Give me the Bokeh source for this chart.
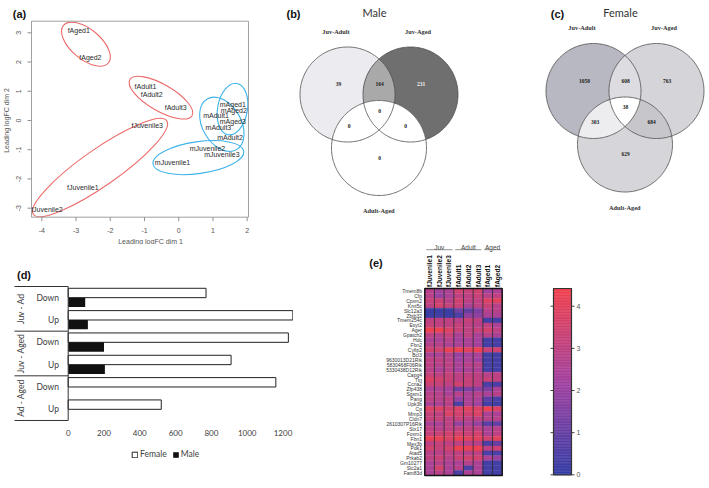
import numpy as np
from bokeh.plotting import figure
from bokeh.layouts import column, row
from bokeh.models import Range1d, Legend, ColumnDataSource
from bokeh.core.properties import value
from bokeh.transform import linear_cmap
from bokeh.embed import file_html
from bokeh.resources import INLINE

SANS = "Liberation Sans"
SERIF = "Liberation Serif"
CAL = "Lato"

# ---------------- (a) MDS plot data ----------------
mds_names = ["fAged1", "fAged2", "fAdult1", "fAdult2", "fAdult3", "fJuvenile3", "fJuvenile1", "fJuvenile2",
             "mAged1", "mAged2", "mAdult1", "mAged3", "mAdult3", "mAdult2", "mJuvenile2", "mJuvenile3", "mJuvenile1"]
mds_dim1 = [-2.92, -2.58, -0.97, -0.79, -0.09, -0.92, -2.80, -3.85,
            1.58, 1.61, 1.09, 1.58, 1.16, 1.50, 0.84, 1.26, -0.18]
mds_dim2 = [3.08, 2.17, 1.15, 0.88, 0.44, -0.18, -2.28, -3.05,
            0.56, 0.35, 0.17, -0.05, -0.24, -0.59, -0.96, -1.17, -1.44]
mds_xticks = [-4, -3, -2, -1, 0, 1, 2]
mds_yticks = [-3, -2, -1, 0, 1, 2, 3]

ell_cx = [-2.71, -0.52, -2.30, 0.575, 1.26, 1.57]
ell_cy = [2.61, 0.78, -1.61, -1.27, -0.13, 0.39]
ell_w = [1.71, 2.10, 4.76, 2.68, 1.71, 1.52]
ell_h = [1.02, 0.91, 1.25, 1.09, 1.32, 1.02]
ell_deg = [-40, -30, 35, 8, -60, 80]
ell_sex = ["f", "f", "f", "m", "m", "m"]

# ---------------- (b)/(c) Venn data ----------------
venn_sets = ["Juv-Adult", "Juv-Aged", "Adult-Aged"]
venn_regions = ["100", "010", "001", "110", "101", "011", "111"]
male_counts = [39, 231, 0, 164, 0, 0, 0]
female_counts = [1058, 763, 629, 608, 303, 684, 38]

# ---------------- (d) DE gene counts ----------------
de_groups = ["Juv - Ad", "Juv - Aged", "Ad - Aged"]
de_dirs = ["Down", "Up"]
de_female = [770, 1255, 1230, 910, 1160, 520]
de_male = [95, 110, 200, 205, 0, 0]
de_xticks = [0, 200, 400, 600, 800, 1000, 1200]

# ---------------- (e) heatmap ----------------
he_cols = ["fJuvenile1", "fJuvenile2", "fJuvenile3", "fAdult1", "fAdult2", "fAdult3", "fAged1", "fAged2"]
he_col_groups = ["Juv", "Adult", "Aged"]
he_col_group_sizes = [3, 3, 2]
he_genes = ["Tmem8b", "Cfp", "Cpxm2", "Kmt5c", "Slc12a3", "Zbtb32", "Tmem254c", "Esyt2", "Ager",
            "Gpatch2", "Hdc", "Fbn2", "Cyfip2", "Bcl3", "9630013D21Rik", "5830468F06Rik",
            "5330438D12Rik", "Capg4", "Ttn", "Ccna2", "Zfp438", "Sgsm1", "Pang", "Upk3b", "Cp",
            "Mmp3", "Cldn7", "2610307P16Rik", "Stx17", "Foxm1", "Fbn1", "Mex3b", "Pdk1", "Atad5",
            "Prkab2", "Gm10277", "Slc2a1", "Fam83d"]
he_vals = [
    [2.8, 2.3, 2.5, 3.5, 3.2, 3.5, 2.2, 2.5],
    [2.8, 2.0, 2.5, 3.0, 3.0, 3.3, 2.8, 3.0],
    [3.2, 3.3, 2.8, 3.5, 3.0, 3.0, 3.8, 4.0],
    [3.0, 3.5, 3.2, 3.3, 2.5, 3.0, 3.3, 2.8],
    [0.2, 0.2, 0.2, 1.2, 1.0, 1.5, 2.8, 2.8],
    [0.2, 0.3, 0.2, 0.5, 1.8, 1.8, 2.5, 2.5],
    [3.0, 3.0, 3.0, 2.8, 3.2, 3.0, 0.3, 0.3],
    [3.2, 3.0, 3.0, 3.2, 3.0, 2.8, 3.0, 2.5],
    [4.3, 4.3, 3.8, 3.2, 3.0, 3.2, 3.5, 3.0],
    [3.0, 2.8, 3.2, 2.5, 3.0, 2.5, 2.8, 2.5],
    [2.5, 2.5, 2.8, 2.3, 2.5, 2.3, 0.3, 0.3],
    [2.8, 2.8, 2.5, 2.5, 2.5, 2.3, 0.3, 0.4],
    [3.5, 3.5, 4.2, 4.3, 4.0, 4.3, 3.3, 3.5],
    [2.5, 2.5, 2.8, 2.0, 2.3, 2.5, 0.3, 0.3],
    [3.0, 3.0, 2.8, 2.2, 2.5, 2.2, 0.3, 0.3],
    [3.0, 2.8, 3.0, 2.5, 2.8, 2.8, 0.3, 0.3],
    [2.8, 2.5, 2.8, 2.3, 2.5, 2.5, 0.3, 0.3],
    [3.2, 3.0, 3.2, 3.0, 3.0, 3.0, 2.8, 3.0],
    [3.8, 3.5, 3.3, 3.0, 3.2, 3.0, 3.2, 3.0],
    [3.3, 3.2, 3.0, 3.5, 3.2, 3.0, 0.5, 0.5],
    [2.5, 2.5, 2.3, 1.2, 1.5, 1.8, 1.5, 2.5],
    [2.8, 2.8, 2.5, 2.8, 2.5, 2.8, 2.5, 2.8],
    [3.0, 2.8, 3.0, 2.0, 2.5, 2.5, 0.8, 0.5],
    [2.5, 2.5, 2.8, 0.5, 2.5, 2.2, 0.3, 0.3],
    [3.8, 3.8, 3.5, 3.8, 4.0, 3.8, 4.3, 3.8],
    [3.2, 3.0, 3.8, 3.5, 3.5, 3.8, 2.5, 2.5],
    [3.2, 3.2, 3.0, 3.2, 3.0, 3.0, 2.8, 2.8],
    [2.5, 2.5, 3.0, 2.0, 2.5, 2.0, 0.8, 1.0],
    [3.0, 2.8, 3.0, 3.0, 3.0, 3.0, 2.5, 2.8],
    [3.2, 3.3, 3.5, 3.5, 3.3, 3.5, 2.5, 3.0],
    [4.2, 4.2, 3.8, 4.2, 4.0, 4.0, 3.5, 4.0],
    [3.0, 3.2, 3.0, 3.0, 2.8, 2.8, 0.5, 1.0],
    [3.5, 3.2, 3.5, 4.3, 4.2, 4.3, 3.0, 3.3],
    [2.8, 2.8, 3.0, 3.0, 2.8, 3.0, 0.5, 0.5],
    [3.0, 3.3, 2.8, 3.3, 3.5, 3.5, 2.5, 2.0],
    [2.5, 2.8, 2.5, 2.5, 2.8, 2.5, 0.3, 0.3],
    [2.5, 3.5, 2.5, 2.8, 0.5, 2.5, 0.3, 0.3],
    [2.5, 2.8, 2.5, 0.5, 2.5, 2.5, 0.3, 0.3],
]
he_low, he_high = 0.0, 4.42
cb_ticks = [0, 1, 2, 3, 4]


def make_palette(n=256):
    stops = [(0.0, (52, 62, 166)), (0.5, (162, 66, 160)), (1.0, (240, 66, 78))]
    out = []
    for i in range(n):
        t = i / (n - 1)
        for (t0, c0), (t1, c1) in zip(stops[:-1], stops[1:]):
            if t <= t1 + 1e-9:
                f = (t - t0) / (t1 - t0)
                c = tuple(int(round(a + (b - a) * f)) for a, b in zip(c0, c1))
                break
        out.append("#%02x%02x%02x" % c)
    return out


PAL = make_palette()


def base_fig(width, height, x_range, y_range):
    # every panel uses its whole canvas as frame (no borders), so panels never get re-aligned
    p = figure(width=width, height=height, x_range=x_range, y_range=y_range, output_backend="svg",
               toolbar_location=None, x_axis_location=None, y_axis_location=None, min_border=0, title=None)
    p.grid.visible = False
    p.outline_line_color = None
    p.background_fill_color = "white"
    p.border_fill_color = "white"
    return p


def txt(p, x, y, text, size, font=SANS, style="normal", color="#222222", align="center",
        baseline="middle", angle=0.0, **kw):
    p.text(x=x, y=y, text=text, text_font=value(font), text_font_size=size, text_font_style=style,
           text_color=color, text_align=align, text_baseline=baseline, angle=angle, **kw)


# ======================= (a) MDS =======================
AX0, AX1, AY0, AY1 = -4.301, 2.038, -3.308, 3.397        # plot box
PXA, PYA = 34.23, 29.23                                   # px per unit
xa0 = -4 - 41.3 / PXA
ya1 = 3 + 32.3 / PYA
pa = base_fig(285, 244, Range1d(xa0, xa0 + 285 / PXA), Range1d(ya1 - 244 / PYA, ya1))
ell_color = ["#ec6b6b" if s == "f" else "#3db3ea" for s in ell_sex]
pa.ellipse(x=ell_cx, y=ell_cy, width=ell_w, height=ell_h, angle=ell_deg, angle_units="deg",
           fill_color=None, line_color=ell_color, line_width=1.1)
txt(pa, mds_dim1, mds_dim2, mds_names, "7px", color="#2a2a2a")
# mask outside the plot box (the reference clips at the box)
big = 50
pa.quad(left=[-big, AX1, -big, -big], right=[AX0, big, big, big],
        bottom=[-big, -big, AY1, -big], top=[big, big, big, AY0], fill_color="white", line_color=None)
pa.quad(left=[AX0], right=[AX1], bottom=[AY0], top=[AY1], fill_color=None, line_color="#a0a0a0", line_width=1)
pa.segment(x0=mds_xticks, x1=mds_xticks, y0=AY0, y1=AY0 - 4 / PYA, line_color="#909090", line_width=1)
pa.segment(x0=AX0, x1=AX0 - 4 / PXA, y0=mds_yticks, y1=mds_yticks, line_color="#909090", line_width=1)
txt(pa, mds_xticks, [ya1 - 230 / PYA] * len(mds_xticks), [str(t) for t in mds_xticks], "7px", color="#555555")
txt(pa, [xa0 + 18 / PXA] * len(mds_yticks), mds_yticks, [str(t) for t in mds_yticks], "7px", color="#555555",
    angle=np.pi / 2)
txt(pa, [xa0 + 150 / PXA], [ya1 - 240.5 / PYA], ["Leading logFC dim 1"], "7px", color="#555555")
txt(pa, [xa0 + 5.5 / PXA], [ya1 - 120 / PYA], ["Leading logFC dim 2"], "7px", color="#555555", angle=np.pi / 2)
txt(pa, [xa0 + 19 / PXA], [ya1 - 13 / PYA], ["(a)"], "11px", style="bold", color="#111111")

# ======================= (b) + (c) Venn =======================
pv = base_fig(424, 244, Range1d(285, 709), Range1d(244, 0))

VR = 47.5
V_CENTERS = [(-31.5, -17.5), (31.5, -17.5), (0.0, 36.0)]
V_REG_OFF = {"100": (-40.5, -28), "010": (42, -28), "001": (0.5, 45.5), "110": (0.5, -28),
             "101": (-30, 13.7), "011": (26.5, 13.7), "111": (0.5, -1.1)}
V_SET_OFF = [(-43, -81), (39, -81), (-0.3, 98.5)]


def circle_poly(cx, cy, r, n=240):
    t = np.linspace(0, 2 * np.pi, n, endpoint=False)
    return np.column_stack([cx + r * np.cos(t), cy + r * np.sin(t)])


def clip_convex(subject, clipper):
    out = [tuple(p) for p in subject]
    m = len(clipper)
    for i in range(m):
        ax_, ay_ = clipper[i - 1]
        bx_, by_ = clipper[i]
        inp = out
        out = []
        if not inp:
            break

        def inside(p):
            return (bx_ - ax_) * (p[1] - ay_) - (by_ - ay_) * (p[0] - ax_) >= 0

        def inter(p, q):
            x1, y1 = p
            x2, y2 = q
            dx, dy = x2 - x1, y2 - y1
            ex, ey = bx_ - ax_, by_ - ay_
            den = dx * ey - dy * ex
            t = ((ax_ - x1) * ey - (ay_ - y1) * ex) / den
            return (x1 + t * dx, y1 + t * dy)

        s = inp[-1]
        for e in inp:
            if inside(e):
                if not inside(s):
                    out.append(inter(s, e))
                out.append(e)
            elif inside(s):
                out.append(inter(s, e))
            s = e
    return np.array(out)


def draw_venn(p, cx, cy, counts, colors, text_colors):
    circ = [circle_poly(cx + dx, cy + dy, VR) for dx, dy in V_CENTERS]
    order = [("100", [0]), ("010", [1]), ("001", [2]), ("110", [0, 1]), ("101", [0, 2]),
             ("011", [1, 2]), ("111", [0, 1, 2])]
    for key, idx in order:
        poly = circ[idx[0]]
        for j in idx[1:]:
            poly = clip_convex(poly, circ[j])
        if len(poly) > 2:
            p.patch(x=poly[:, 0], y=poly[:, 1], fill_color=colors[key], line_color=None)
    for c in circ:
        p.patch(x=c[:, 0], y=c[:, 1], fill_color=None, line_color="#4d4d4d", line_width=0.8)
    for key, n in zip(venn_regions, counts):
        ox, oy = V_REG_OFF[key]
        txt(p, [cx + ox], [cy + oy], [str(n)], "5.5px", font=SERIF, style="bold",
            color=text_colors.get(key, "#222222"))
    for name, (ox, oy) in zip(venn_sets, V_SET_OFF):
        txt(p, [cx + ox], [cy + oy], [name], "6.3px", font=SERIF, style="bold", color="#333333")


male_colors = {"100": "#ececf0", "010": "#6f6f6f", "001": "#ffffff", "110": "#a9a9a9",
               "101": "#ffffff", "011": "#ffffff", "111": "#ffffff"}
female_colors = {"100": "#b7b8c1", "010": "#d4d4d9", "001": "#d6d6da", "110": "#dcdce1",
                 "101": "#ededf0", "011": "#c7c7cb", "111": "#ffffff"}
draw_venn(pv, 378.5, 111.5, male_counts, male_colors, {"010": "#f2f2f2"})
draw_venn(pv, 624.5, 108.0, female_counts, female_colors, {})

txt(pv, [293, 557], [13, 13], ["(b)", "(c)"], "11px", style="bold", color="#111111")
txt(pv, [374, 620], [12, 12], ["Male", "Female"], "11px", font=CAL, color="#333333")

# ======================= (d) bars =======================
PXD = 0.179                  # px per gene
PYD = 22.33                  # px per row
xd0 = -67.7 / PXD
yd1 = 6 + 42 / PYD
n_rows = len(de_female)
pd_ = base_fig(293, 244, Range1d(xd0, xd0 + 293 / PXD), Range1d(yd1 - 244 / PYD, yd1))
row_c = [n_rows - i - 0.5 for i in range(n_rows)]
bar_h = 0.42
rf = pd_.hbar(y=[c + bar_h / 2 for c in row_c], left=0, right=de_female, height=bar_h,
              fill_color="white", line_color="#222222", line_width=1)
rm = pd_.hbar(y=[c - bar_h / 2 for c in row_c], left=0, right=de_male, height=bar_h,
              fill_color="#111111", line_color=None)
pd_.segment(x0=[0], x1=[0], y0=[0], y1=[n_rows], line_color="#333333", line_width=1)
n_per = len(de_dirs)
bounds = [n_rows - k * n_per for k in range(len(de_groups) + 1)]
pd_.segment(x0=xd0 + 14 / PXD, x1=0, y0=bounds, y1=bounds, line_color="#333333", line_width=1)
grp_c = [n_rows - k * n_per - n_per / 2 for k in range(len(de_groups))]
txt(pd_, [xd0 + 20.7 / PXD] * len(de_groups), grp_c, de_groups, "8.5px", font=CAL, color="#404040",
    angle=np.pi / 2)
txt(pd_, [xd0 + 58.5 / PXD] * n_rows, row_c, de_dirs * len(de_groups), "8.5px", font=CAL, color="#404040",
    align="right")
txt(pd_, de_xticks, [-12.3 / PYD] * len(de_xticks), [str(t) for t in de_xticks], "8px", font=CAL,
    color="#404040")
txt(pd_, [xd0 + 23.5 / PXD], [6 + 12 / PYD], ["(d)"], "11px", style="bold", color="#111111")
leg = Legend(items=[("Female", [rf]), ("Male", [rm])], orientation="horizontal", location=(131, 29),
             border_line_color=None, background_fill_alpha=0, label_text_font=CAL,
             label_text_font_size="8.5px", label_text_color="#404040", glyph_width=7, glyph_height=7,
             label_standoff=2, spacing=5, padding=2, margin=0, label_height=10)
pd_.add_layout(leg, "center")

# ======================= (e) heatmap + colour bar =======================
PXE = 9.675     # px per column
PYE = 4.921     # px per gene row
PYC = 42.15     # px per colour-bar unit
n_c = len(he_cols)
n_g = len(he_genes)
xe0 = -(424.3 - 293) / PXE
ye1 = n_g + 44 / PYE
pe = base_fig(416, 244, Range1d(xe0, xe0 + 416 / PXE), Range1d(ye1 - 244 / PYE, ye1))
pe.extra_y_ranges = {"cb": Range1d(-(488 - 474.3) / PYC, 4 + (305.7 - 244) / PYC)}
hx, hy, hv = [], [], []
for gi in range(n_g):
    for ci in range(n_c):
        hx.append(ci + 0.5)
        hy.append(n_g - gi - 0.5)
        hv.append(he_vals[gi][ci])
hsrc = ColumnDataSource(dict(x=hx, y=hy, v=hv))
cmap = linear_cmap("v", PAL, he_low, he_high)
pe.rect(x="x", y="y", width=1, height=1, source=hsrc, fill_color=cmap, line_color=cmap, line_width=0.4)
pe.segment(x0=list(range(1, n_c)), x1=list(range(1, n_c)), y0=0, y1=n_g, line_color="#2a2a2a", line_width=0.8)
pe.rect(x=[n_c / 2], y=[n_g / 2], width=n_c, height=n_g, fill_color=None, line_color="#111111", line_width=1.5)
txt(pe, [-0.29] * n_g, [n_g - gi - 0.5 for gi in range(n_g)], he_genes, "5px", color="#333333", align="right")
txt(pe, [ci + 0.5 for ci in range(n_c)], [n_g + 0.3] * n_c, he_cols, "6.5px", style="bold", color="#111111",
    align="left", angle=np.pi / 2)
start = 0
for gname, size in zip(he_col_groups, he_col_group_sizes):
    txt(pe, [start + size / 2], [n_g + 41.5 / PYE], [gname], "6.5px", color="#444444")
    pe.segment(x0=[start + 0.15], x1=[start + size - 0.15], y0=[n_g + 38.8 / PYE], y1=[n_g + 38.8 / PYE],
               line_color="#666666", line_width=0.7)
    start += size
txt(pe, [(375.5 - 424.3) / PXE], [n_g + 25.5 / PYE], ["(e)"], "11px", style="bold", color="#111111")

cb_left = n_c + (553 - 501.7) / PXE
cb_right = n_c + (571 - 501.7) / PXE
lv = np.linspace(he_low, he_high, 121)
idx = [int(round((0.5 * (a + b) - he_low) / (he_high - he_low) * (len(PAL) - 1))) for a, b in zip(lv[:-1], lv[1:])]
pe.quad(left=cb_left, right=cb_right, bottom=lv[:-1], top=lv[1:], fill_color=[PAL[i] for i in idx],
        line_color=[PAL[i] for i in idx], line_width=0.5, y_range_name="cb")
pe.quad(left=[cb_left], right=[cb_right], bottom=[he_low], top=[he_high], fill_color=None,
        line_color="#333333", line_width=1.2, y_range_name="cb")
pe.segment(x0=cb_left - 3 / PXE, x1=cb_left, y0=cb_ticks, y1=cb_ticks, line_color="#444444", line_width=1,
           y_range_name="cb")
pe.segment(x0=cb_right, x1=cb_right + 3 / PXE, y0=cb_ticks, y1=cb_ticks, line_color="#444444", line_width=1,
           y_range_name="cb")
txt(pe, [cb_right + 5 / PXE] * len(cb_ticks), cb_ticks, [str(t) for t in cb_ticks], "7px", color="#555555",
    align="left", y_range_name="cb")

layout = column(row(pa, pv), row(pd_, pe))
open("out.html", "w").write(file_html(layout, INLINE))
